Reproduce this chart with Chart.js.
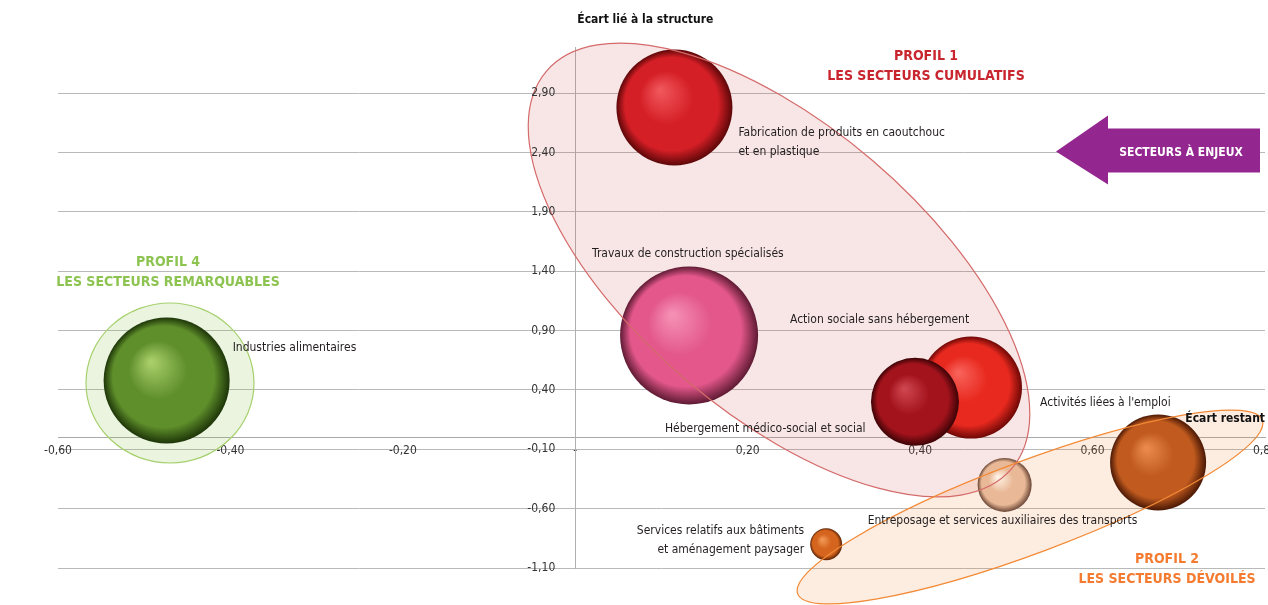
<!DOCTYPE html>
<html lang="fr">
<head>
<meta charset="utf-8">
<title>Écarts sectoriels</title>
<script src="https://cdn.jsdelivr.net/npm/chart.js@4.4.0/dist/chart.umd.min.js"></script>
<style>
    html, body { margin: 0; padding: 0; background: #fff; }
    #zone { position: relative; width: 1268px; height: 605px; }
</style>
</head>
<body>
<div id="zone"><canvas id="grafica-ecarts"></canvas></div>
<script>
// Données
const secteurs = [
    'Fabrication de produits en caoutchouc\net en plastique',
    'Travaux de construction spécialisés',
    'Action sociale sans hébergement',
    'Hébergement médico-social et social',
    "Activités liées à l'emploi",
    'Entreposage et services auxiliaires des transports',
    'Services relatifs aux bâtiments\net aménagement paysager',
    'Industries alimentaires'
];
const ecartRestant = [0.115, 0.132, 0.459, 0.394, 0.676, 0.498, 0.291, -0.474];
const ecartStructure = [2.78, 0.86, 0.42, 0.30, -0.21, -0.40, -0.90, 0.48];
const tailles = [58, 69, 51, 44, 48, 27, 16, 63];
const ticksX = [-0.6, -0.4, -0.2, 0, 0.2, 0.4, 0.6, 0.8];
const ticksY = [-1.1, -0.6, -0.1, 0.4, 0.9, 1.4, 1.9, 2.4, 2.9];

document.addEventListener('DOMContentLoaded', () => {
    const police = "'Liberation Sans Narrow', 'DejaVu Sans Condensed', sans-serif";

    // clair, base, sombre pour chaque sphère
    const couleurs = [
        ['#f0575c', '#d51f26', '#5c0708'],
        ['#f590b5', '#e3578a', '#5e1a33'],
        ['#f8625a', '#e8291f', '#6e0806'],
        ['#cf4650', '#a3131c', '#3c0306'],
        ['#eb8a4e', '#c05a1e', '#4a1805'],
        ['#fff3e6', '#e9b896', '#6a4636'],
        ['#f39a58', '#d5651e', '#5a2205'],
        ['#a9cf6a', '#5f8f2b', '#1d3508']
    ];

    // décalage des étiquettes par rapport au centre de la bulle
    const placements = [
        { dx: 64, dy: 25, align: 'left' },
        { dx: -97, dy: -82, align: 'left' },
        { dx: -181, dy: -68, align: 'left' },
        { dx: -250, dy: 27, align: 'left' },
        { dx: -118, dy: -60, align: 'left' },
        { dx: -137, dy: 36, align: 'left' },
        { dx: -22, dy: -13, align: 'right' },
        { dx: 66, dy: -33, align: 'left' }
    ];

    const profils = [
        { x: 0.2363, y: 1.411, rx: 306, ry: 144, angle: 40.5, fond: 'rgba(205,80,80,0.14)', trait: '#d46a6a',
          titre: ['PROFIL 1', 'LES SECTEURS CUMULATIFS'], couleur: '#c9252f', tx: 926, ty: 56 },
        { x: 0.5274, y: -0.586, rx: 248, ry: 46, angle: -20.5, fond: 'rgba(240,130,50,0.15)', trait: '#f28a36',
          titre: ['PROFIL 2', 'LES SECTEURS DÉVOILÉS'], couleur: '#f47b30', tx: 1167, ty: 559 },
        { x: -0.4701, y: 0.459, rx: 84, ry: 80, angle: 0, fond: 'rgba(140,195,80,0.18)', trait: '#a6d06c',
          titre: ['PROFIL 4', 'LES SECTEURS REMARQUABLES'], couleur: '#8dc451', tx: 168, ty: 262 }
    ];

    const formatNombre = v => Math.abs(v) < 1e-9 ? '-' : v.toFixed(2).replace('.', ',');

    function sphere(context) {
        const chart = context.chart;
        const i = context.dataIndex;
        if (context.type !== 'data' || !chart.scales.x || !chart.scales.y) return couleurs[i][1];
        const cx = chart.scales.x.getPixelForValue(context.raw.x);
        const cy = chart.scales.y.getPixelForValue(context.raw.y);
        const r = context.raw.r;
        if (!isFinite(cx) || !isFinite(cy) || !isFinite(r)) return couleurs[i][1];
        const [clair, base, sombre] = couleurs[i];
        const g = chart.ctx.createRadialGradient(cx - r * 0.25, cy - r * 0.3, r * 0.02, cx, cy, r);
        g.addColorStop(0, clair);
        g.addColorStop(0.45, base);
        g.addColorStop(0.8, base);
        g.addColorStop(1, sombre);
        return g;
    }

    function tracerEllipse(chart, p) {
        const c = chart.ctx;
        const cx = chart.scales.x.getPixelForValue(p.x);
        const cy = chart.scales.y.getPixelForValue(p.y);
        c.beginPath();
        c.ellipse(cx, cy, p.rx, p.ry, p.angle * Math.PI / 180, 0, 2 * Math.PI);
    }

    const decor = {
        id: 'decor',
        beforeDatasetsDraw(chart) {
            const c = chart.ctx;
            profils.forEach(p => {
                c.save();
                tracerEllipse(chart, p);
                c.fillStyle = p.fond;
                c.fill();
                c.restore();
            });
        },
        afterDatasetsDraw(chart) {
            const c = chart.ctx;
            const { x: echX, y: echY } = chart.scales;
            const area = chart.chartArea;
            c.save();

            profils.forEach(p => {
                tracerEllipse(chart, p);
                c.strokeStyle = p.trait;
                c.lineWidth = 1.2;
                c.stroke();
            });

            // graduations de l'axe vertical
            c.font = `12px ${police}`;
            c.fillStyle = '#333';
            c.textAlign = 'right';
            c.textBaseline = 'middle';
            const x0 = echX.getPixelForValue(0);
            echY.ticks.forEach(t => {
                c.fillText(formatNombre(t.value), x0 - 20, echY.getPixelForValue(t.value));
            });

            // étiquettes des secteurs
            const meta = chart.getDatasetMeta(0);
            c.fillStyle = '#231f20';
            meta.data.forEach((el, i) => {
                const pl = placements[i];
                c.textAlign = pl.align;
                secteurs[i].split('\n').forEach((ligne, k) => {
                    c.fillText(ligne, el.x + pl.dx, el.y + pl.dy + k * 19);
                });
            });

            // titres des axes
            c.font = `bold 12px ${police}`;
            c.fillStyle = '#111';
            c.textAlign = 'left';
            c.fillText('Écart lié à la structure', x0 + 2, 20);
            c.textAlign = 'right';
            c.fillText('Écart restant', area.right, echY.getPixelForValue(0) - 19);

            // titres des profils
            c.font = `bold 14px ${police}`;
            c.textAlign = 'center';
            profils.forEach(p => {
                c.fillStyle = p.couleur;
                p.titre.forEach((ligne, k) => c.fillText(ligne, p.tx, p.ty + k * 20));
            });

            // flèche secteurs à enjeux
            const yf = echY.getPixelForValue(2.4) - 1;
            const droite = area.right - 5;
            c.fillStyle = '#93278f';
            c.beginPath();
            c.moveTo(1056, yf);
            c.lineTo(1108, yf - 36);
            c.lineTo(1108, yf - 23);
            c.lineTo(droite, yf - 23);
            c.lineTo(droite, yf + 21);
            c.lineTo(1108, yf + 21);
            c.lineTo(1108, yf + 33);
            c.closePath();
            c.fill();
            c.fillStyle = '#fff';
            c.font = `bold 12px ${police}`;
            c.textAlign = 'center';
            c.fillText('SECTEURS À ENJEUX', 1181, yf + 1);

            c.restore();
        }
    };

    function graficarEcarts() {
        const ctx = document.getElementById('grafica-ecarts');
        if (!ctx) return;

        const points = secteurs.map((s, i) => ({ x: ecartRestant[i], y: ecartStructure[i], r: tailles[i] }));

        new Chart(ctx.getContext('2d'), {
            type: 'bubble',
            data: {
                datasets: [{
                    label: 'Secteurs',
                    data: points,
                    backgroundColor: sphere,
                    borderWidth: 0,
                    hoverRadius: 0
                }]
            },
            plugins: [decor],
            options: {
                responsive: true,
                maintainAspectRatio: false,
                animation: false,
                events: [],
                layout: { autoPadding: false, padding: { left: 58, right: 3, top: 47, bottom: 37 } },
                plugins: {
                    legend: { display: false },
                    tooltip: { enabled: false }
                },
                scales: {
                    x: {
                        type: 'linear',
                        position: { y: 0 },
                        min: -0.6,
                        max: 0.8,
                        afterBuildTicks: scale => { scale.ticks = ticksX.map(value => ({ value })); },
                        afterFit: scale => { scale.paddingLeft = 0; scale.paddingRight = 0; },
                        grid: { drawOnChartArea: false, drawTicks: false },
                        border: { color: '#a9a9a9', width: 1 },
                        ticks: {
                            autoSkip: false,
                            maxRotation: 0,
                            padding: 6,
                            color: '#333',
                            font: { family: police, size: 12 },
                            callback: v => formatNombre(v)
                        }
                    },
                    y: {
                        type: 'linear',
                        position: { x: 0 },
                        min: -1.1,
                        max: 3.29,
                        afterBuildTicks: scale => { scale.ticks = ticksY.map(value => ({ value })); },
                        afterFit: scale => { scale.width = 0; },
                        grid: { color: '#b9b9b9', drawTicks: false },
                        border: { color: '#b0b0b0', width: 1 },
                        ticks: { display: false }
                    }
                }
            }
        });
    }

    graficarEcarts();
});
</script>
</body>
</html>
